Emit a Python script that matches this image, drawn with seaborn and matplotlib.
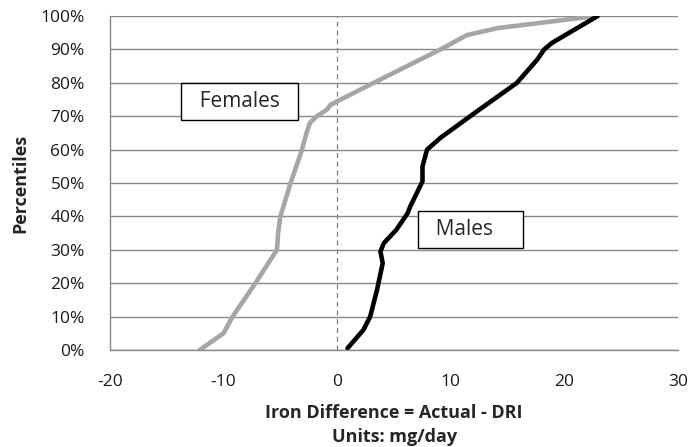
import numpy as np
import pandas as pd
import matplotlib
matplotlib.use("Agg")
import matplotlib.pyplot as plt
import seaborn as sns

# percentile levels (fraction) and iron difference (mg/day)
fem_pct = [0.00, 0.05, 0.10, 0.20, 0.30, 0.35, 0.40, 0.50, 0.60, 0.65, 0.68, 0.70, 0.72, 0.734,
           0.75, 0.80, 0.904, 0.943, 0.964, 1.00]
fem_x = [-12.1, -10.0, -9.2, -7.2, -5.3, -5.2, -5.0, -4.1, -3.1, -2.7, -2.4, -1.8, -0.9, -0.6,
         0.3, 3.2, 9.3, 11.4, 14.1, 22.7]

male_pct = [0.005, 0.06, 0.10, 0.18, 0.26, 0.295, 0.32, 0.36, 0.41, 0.428, 0.505, 0.55, 0.60, 0.636,
            0.715, 0.80, 0.87, 0.90, 0.92, 1.00]
male_x = [0.9, 2.3, 2.9, 3.5, 4.0, 3.8, 4.1, 5.2, 6.2, 6.4, 7.5, 7.5, 7.9, 9.1,
          12.3, 15.8, 17.6, 18.2, 18.9, 22.9]

sns.set_style("white")
plt.rcParams["font.family"] = ["Open Sans", "DejaVu Sans"]
plt.rcParams["axes.unicode_minus"] = False

df = pd.concat([
    pd.DataFrame({"diff": fem_x, "pct": fem_pct, "sex": "Females"}),
    pd.DataFrame({"diff": male_x, "pct": male_pct, "sex": "Males"}),
])

fig = plt.figure(figsize=(6.95, 4.47), dpi=100)
ax = fig.add_axes([0.158, 0.217, 0.818, 0.747])

sns.lineplot(data=df, x="diff", y="pct", hue="sex", sort=False, estimator=None,
             palette={"Females": "#a6a6a6", "Males": "#000000"}, linewidth=3.3,
             legend=False, ax=ax)
for l in ax.lines:
    l.set_solid_joinstyle("round")
    l.set_solid_capstyle("round")

ax.axvline(0, color="#808080", linestyle=(0, (4, 3)), linewidth=0.9, zorder=0)

ax.set_xlim(-20, 30)
ax.set_ylim(0, 1)
ax.set_xticks(range(-20, 31, 10))
ax.set_yticks(np.arange(0, 1.01, 0.1))
ax.set_yticklabels([f"{int(round(v * 100))}%" for v in np.arange(0, 1.01, 0.1)])
ax.yaxis.grid(True, color="#898989", linewidth=1.0)
ax.set_axisbelow(True)
ax.tick_params(axis="both", labelsize=12.5, colors="#898989", labelcolor="#1a1a1a",
               direction="out", length=7, width=1)
ax.tick_params(axis="x", pad=10)
ax.tick_params(axis="y", pad=11)

for s in ["top", "right"]:
    ax.spines[s].set_visible(False)
for s in ["left", "bottom"]:
    ax.spines[s].set_color("#898989")
    ax.spines[s].set_linewidth(1.0)

ax.set_xlabel("Iron Difference = Actual - DRI\nUnits: mg/day", fontsize=13,
              fontweight="bold", labelpad=10, linespacing=1.45)
ax.set_ylabel("Percentiles", fontsize=13, fontweight="bold", labelpad=8)

box = dict(boxstyle="square,pad=0.38", facecolor="white", edgecolor="black", linewidth=1)
ax.text(-8.6, 0.744, "  Females  ", fontsize=15, ha="center", va="center", bbox=box)
ax.text(11.7, 0.36, "  Males    ", fontsize=15, ha="center", va="center", bbox=box)

fig.savefig("out.png", dpi=100)
